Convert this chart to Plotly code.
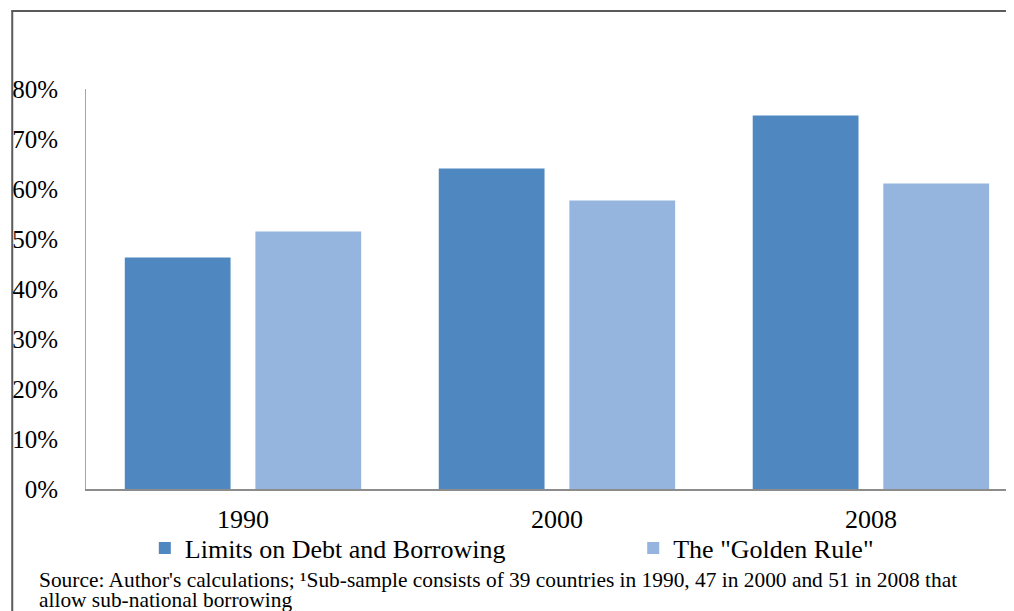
import plotly.graph_objects as go

years = ["1990", "2000", "2008"]
limits_debt = [0.463, 0.641, 0.747]
golden_rule = [0.515, 0.577, 0.611]
y_ticks = [0, 0.1, 0.2, 0.3, 0.4, 0.5, 0.6, 0.7, 0.8]
y_tick_labels = ["0%", "10%", "20%", "30%", "40%", "50%", "60%", "70%", "80%"]
series_names = ["Limits on Debt and Borrowing", 'The "Golden Rule"']
source_line1 = ("Source: Author's calculations; \u00b9Sub-sample consists of 39 countries in 1990, "
                "47 in 2000 and 51 in 2008 that")
source_line2 = "allow sub-national borrowing"

FONT = "Liberation Serif"

# page body has an 8px margin; work in figure pixels
OFF = 8
FW, FH = 1014 - OFF, 611 - OFF
L, T, W, H = 83 - OFF, 89 - OFF, 927, 400


def px(x_ref):
    return (x_ref - OFF - L) / W


def py(y_ref):
    return (T + H - (y_ref - OFF)) / H


fig = go.Figure()
fig.add_trace(go.Bar(x=years, y=limits_debt, name=series_names[0], legend="legend",
                     marker=dict(color="#4F88C0", line=dict(width=0))))
fig.add_trace(go.Bar(x=years, y=golden_rule, name=series_names[1], legend="legend2",
                     marker=dict(color="#96B5DE", line=dict(width=0))))

shapes = [
    dict(type="line", xref="paper", yref="paper", x0=px(8), x1=px(1030), y0=py(11), y1=py(11),
         line=dict(color="#5A5A5A", width=2)),
    dict(type="line", xref="paper", yref="paper", x0=px(9), x1=px(9), y0=py(11), y1=py(650),
         line=dict(color="#5A5A5A", width=2)),
]

legend_common = dict(orientation="h", yanchor="middle", y=py(548),
                     font=dict(size=26, family=FONT, color="black"),
                     bgcolor="rgba(0,0,0,0)", borderwidth=0)

fig.update_layout(
    width=FW, height=FH,
    margin=dict(l=L, r=FW - L - W, t=T, b=FH - T - H),
    paper_bgcolor="white", plot_bgcolor="white",
    font=dict(family=FONT, size=25, color="black"),
    barmode="group", bargap=0.168, bargroupgap=0.19,
    showlegend=True,
    legend=dict(x=px(142), xanchor="left", **legend_common),
    legend2=dict(x=px(632), xanchor="left", **legend_common),
    xaxis=dict(type="category", range=[-0.5, 2.443], showline=True, linecolor="#8C8C8C",
               linewidth=1.5, ticks="", showgrid=False,
               tickfont=dict(size=26, family=FONT, color="black"), ticklabelstandoff=6),
    yaxis=dict(range=[0, 0.8], tickvals=y_ticks, ticktext=y_tick_labels, showline=True,
               linecolor="#A6A6A6", linewidth=1, showgrid=False, ticks="",
               zeroline=False, tickfont=dict(size=25, family=FONT, color="black"),
               ticklabelstandoff=22),
    shapes=shapes,
    annotations=[
        dict(text=source_line1, xref="paper", yref="paper", x=px(34), y=py(580),
             xanchor="left", yanchor="middle", align="left", showarrow=False,
             font=dict(size=21.4, family=FONT, color="black")),
        dict(text=source_line2, xref="paper", yref="paper", x=px(34), y=py(600),
             xanchor="left", yanchor="middle", align="left", showarrow=False,
             font=dict(size=21.4, family=FONT, color="black")),
    ],
)

fig.write_html("out.html")
